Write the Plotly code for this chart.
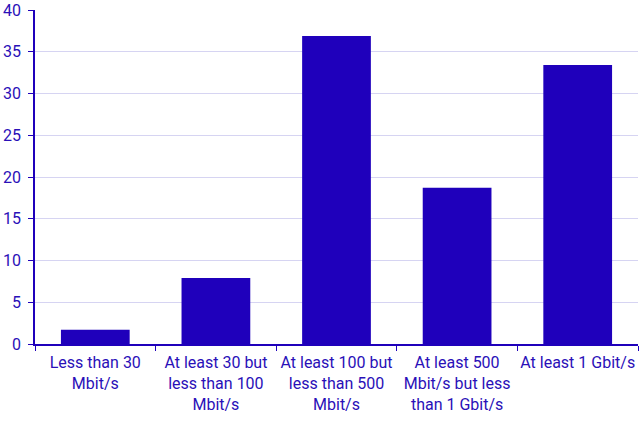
import plotly.graph_objects as go

categories = [
    "Less than 30<br>Mbit/s",
    "At least 30 but<br>less than 100<br>Mbit/s",
    "At least 100 but<br>less than 500<br>Mbit/s",
    "At least 500<br>Mbit/s but less<br>than 1 Gbit/s",
    "At least 1 Gbit/s",
]
values = [1.7, 7.9, 36.9, 18.7, 33.4]
y_ticks = [0, 5, 10, 15, 20, 25, 30, 35, 40]

bar_color = "#1f00bb"
text_color = "#2a10b8"

fig = go.Figure(
    go.Bar(x=categories, y=values, marker_color=bar_color, marker_line_width=0, width=0.57)
)
fig.update_layout(
    width=643,
    height=423,
    margin=dict(l=35, r=5, t=10, b=79),
    plot_bgcolor="white",
    paper_bgcolor="white",
    font=dict(family="Roboto", size=16, color=text_color),
    showlegend=False,
)
fig.update_xaxes(
    showline=True, linecolor=bar_color, linewidth=1.5,
    ticks="outside", tickson="boundaries", ticklen=5, tickcolor=bar_color,
    showgrid=False, tickfont=dict(size=16, color=text_color), tickangle=0,
    ticklabelstandoff=3,
    automargin=False,
)
fig.update_yaxes(
    range=[0, 40], tickvals=y_ticks,
    showline=True, linecolor=bar_color, linewidth=1.5,
    ticks="outside", ticklen=5, tickcolor=bar_color,
    showgrid=True, gridcolor="#d6d4f2", gridwidth=1,
    zeroline=False, tickfont=dict(size=16, color=text_color),
    ticklabelstandoff=4,
    automargin=False,
)
fig.write_html(
    "out.html",
    config={"displayModeBar": False},
    post_script="document.body.style.margin='0';",
)
